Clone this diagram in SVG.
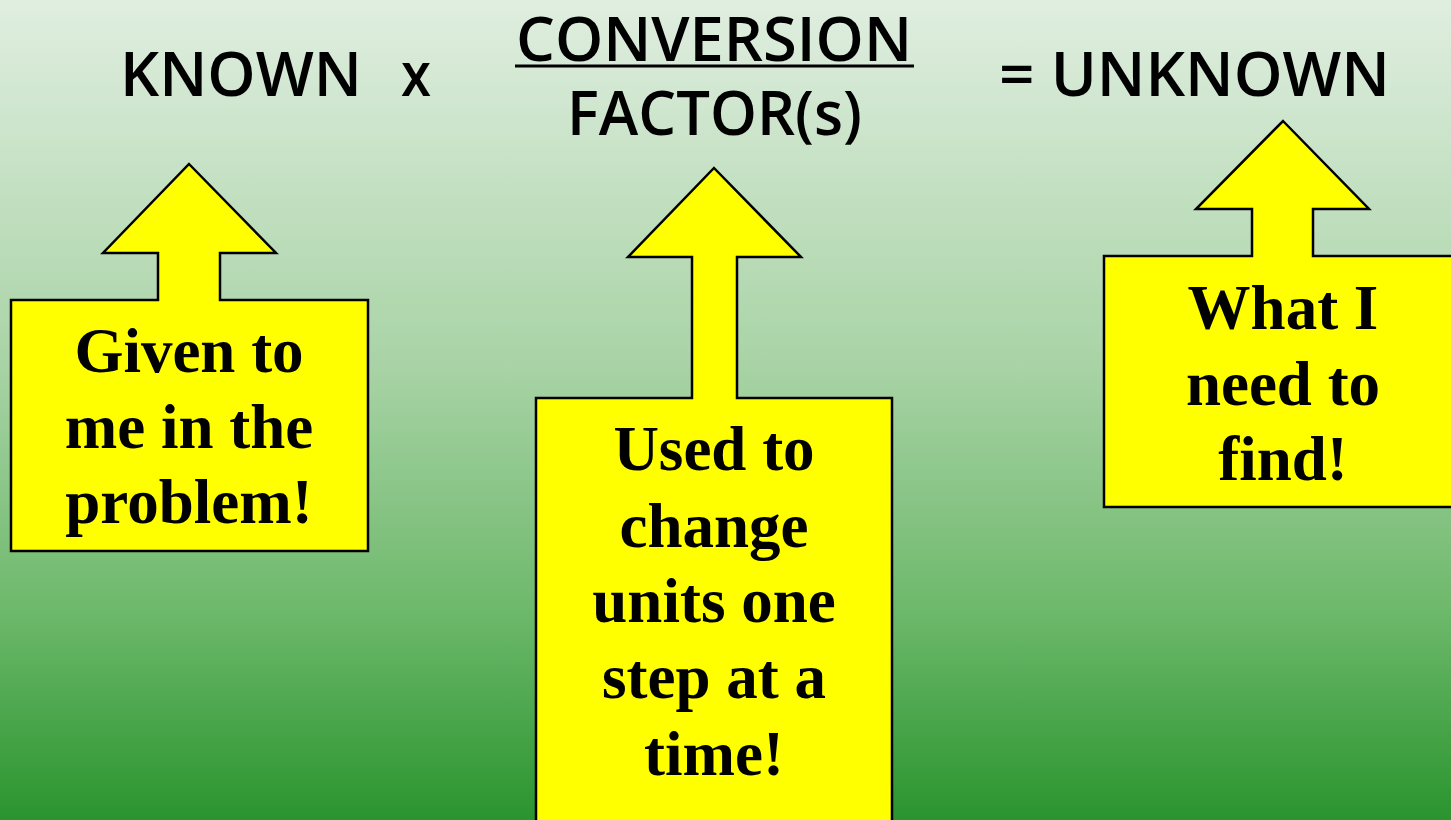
<svg xmlns="http://www.w3.org/2000/svg" width="1451" height="820" viewBox="0 0 1451 820">
<defs>
<linearGradient id="bg" x1="0" y1="0" x2="0" y2="1">
<stop offset="0" stop-color="#e0eee0"/>
<stop offset="0.45" stop-color="#a8d3a5"/>
<stop offset="0.75" stop-color="#6cb86a"/>
<stop offset="1" stop-color="#2a942e"/>
</linearGradient>
<style>
.title{font-family:"Open Sans","Noto Sans",sans-serif;font-weight:600;font-size:62px;fill:#000}
.box{fill:#ffff00;stroke:#000;stroke-width:2.5;stroke-linejoin:miter}
.lbl{font-family:"Liberation Serif","Times New Roman",serif;font-weight:bold;font-size:63px;fill:#000;text-anchor:middle}
</style>
</defs>
<rect x="0" y="0" width="1451" height="820" fill="url(#bg)"/>
<g id="equation">
<text class="title" x="120" y="96" textLength="242" lengthAdjust="spacingAndGlyphs">KNOWN</text>
<text class="title" x="401" y="96" textLength="30" lengthAdjust="spacingAndGlyphs">x</text>
<text class="title" x="516" y="61" textLength="396" lengthAdjust="spacingAndGlyphs">CONVERSION</text>
<line x1="515" y1="66" x2="914" y2="66" stroke="#000" stroke-width="3"/>
<text class="title" x="567" y="135" textLength="295" lengthAdjust="spacingAndGlyphs">FACTOR(s)</text>
<text class="title" x="999" y="96" textLength="391" lengthAdjust="spacingAndGlyphs">= UNKNOWN</text>
</g>
<g id="connectors"></g>
<g id="known-callout">
<path class="box" d="M189,164 L276,253 L220,253 L220,300 L368,300 L368,551 L11,551 L11,300 L158,300 L158,253 L103,253 Z"/>
<text class="lbl" x="189" y="372">Given to</text>
<text class="lbl" x="189" y="448">me in the</text>
<text class="lbl" x="189" y="523">problem!</text>
</g>
<g id="conversion-callout">
<path class="box" d="M714,168 L801,257 L737,257 L737,398 L892,398 L892,830 L536,830 L536,398 L692,398 L692,257 L628,257 Z"/>
<text class="lbl" x="714" y="470">Used to</text>
<text class="lbl" x="714" y="547">change</text>
<text class="lbl" x="714" y="622">units one</text>
<text class="lbl" x="714" y="698">step at a</text>
<text class="lbl" x="714" y="775">time!</text>
</g>
<g id="unknown-callout">
<path class="box" d="M1283,121 L1369,209 L1313,209 L1313,256 L1455,256 L1455,507 L1104,507 L1104,256 L1252,256 L1252,209 L1196,209 Z"/>
<text class="lbl" x="1283" y="329">What I</text>
<text class="lbl" x="1283" y="405">need to</text>
<text class="lbl" x="1283" y="480">find!</text>
</g>
</svg>
